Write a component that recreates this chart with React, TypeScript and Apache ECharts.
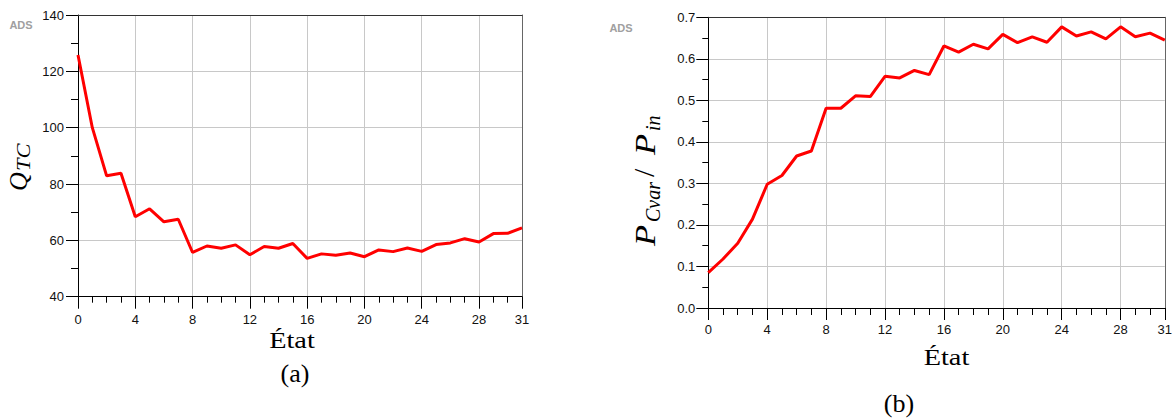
import React, { useEffect, useRef } from "react";
import * as echarts from "echarts";

const states = [0, 1, 2, 3, 4, 5, 6, 7, 8, 9, 10, 11, 12, 13, 14, 15, 16, 17, 18, 19, 20, 21, 22, 23, 24, 25, 26, 27, 28, 29, 30, 31];

const qtcValues = [125.8, 100.0, 82.9, 83.8, 68.4, 71.2, 66.6, 67.5, 55.7, 58.0, 57.2, 58.4, 54.9, 57.8, 57.2, 58.9, 53.6, 55.2, 54.7, 55.5, 54.2, 56.6, 56.0, 57.3, 56.1, 58.5, 59.1, 60.6, 59.4, 62.4, 62.5, 64.4];

const ratioValues = [0.085, 0.118, 0.156, 0.214, 0.298, 0.319, 0.366, 0.378, 0.481, 0.481, 0.511, 0.509, 0.558, 0.554, 0.572, 0.562, 0.631, 0.616, 0.635, 0.624, 0.659, 0.639, 0.653, 0.640, 0.677, 0.655, 0.665, 0.648, 0.677, 0.653, 0.662, 0.645];

const xTicks = [0, 4, 8, 12, 16, 20, 24, 28, 31];
const qtcTicks = [40, 60, 80, 100, 120, 140];
const ratioTicks = [0.0, 0.1, 0.2, 0.3, 0.4, 0.5, 0.6, 0.7];

const SANS = '"Liberation Sans", Arial, sans-serif';
const SERIF = '"Liberation Serif", "Times New Roman", serif';

function mainX(gridIndex: number, majorLen: number, minorLen: number, margin: number) {
  return {
    type: "value",
    gridIndex,
    min: xTicks[0],
    max: xTicks[xTicks.length - 1],
    interval: 4,
    axisLine: { show: true, onZero: false, lineStyle: { color: "#000", width: 1 } },
    axisTick: { show: true, inside: false, length: majorLen, lineStyle: { color: "#000", width: 1 } },
    minorTick: { show: true, splitNumber: 4, length: minorLen, lineStyle: { color: "#000", width: 1 } },
    axisLabel: { show: true, margin, color: "#111", fontSize: 13, fontFamily: SANS },
    splitLine: { show: true, lineStyle: { color: "#c8c8c8", width: 1 } },
    minorSplitLine: { show: false },
  };
}

function borderAxisX(gridIndex: number) {
  return {
    type: "value",
    gridIndex,
    position: "top",
    min: xTicks[0],
    max: xTicks[xTicks.length - 1],
    axisLine: { show: true, onZero: false, lineStyle: { color: "#333", width: 1 } },
    axisTick: { show: false },
    axisLabel: { show: false },
    splitLine: { show: false },
  };
}

function borderAxisY(gridIndex: number, min: number, max: number) {
  return {
    type: "value",
    gridIndex,
    position: "right",
    min,
    max,
    axisLine: { show: true, onZero: false, lineStyle: { color: "#666", width: 1 } },
    axisTick: { show: false },
    axisLabel: { show: false },
    splitLine: { show: false },
  };
}

function text(x: number, y: number, str: string, size: number, opts: any = {}) {
  return {
    type: "text",
    x,
    y,
    rotation: opts.rotation || 0,
    scaleX: opts.scaleX || 1,
    z: 100,
    style: {
      text: str,
      fontFamily: opts.family || SERIF,
      fontSize: size,
      fontStyle: opts.italic ? "italic" : "normal",
      fontWeight: opts.weight || "normal",
      fill: opts.color || "#000",
      align: opts.align || "center",
      verticalAlign: "middle",
    },
  };
}

export default function App() {
  const ref = useRef<HTMLDivElement>(null);

  useEffect(() => {
    if (!ref.current) return;
    const chart = echarts.init(ref.current, null, { renderer: "svg" });
    const R = Math.PI / 2;
    const option: any = {
      animation: false,
      backgroundColor: "#fff",
      grid: [
        { left: 78, top: 15, right: 653, bottom: 121.3, containLabel: false },
        { left: 708.3, top: 17.3, right: 7.7, bottom: 110, containLabel: false },
      ],
      xAxis: [
        mainX(0, 12, 6, 16),
        mainX(1, 12, 7, 15),
        borderAxisX(0),
        borderAxisX(1),
      ],
      yAxis: [
        {
          type: "value",
          gridIndex: 0,
          min: qtcTicks[0],
          max: qtcTicks[qtcTicks.length - 1],
          interval: 20,
          axisLine: { show: true, onZero: false, lineStyle: { color: "#000", width: 1 } },
          axisTick: { show: true, length: 12, lineStyle: { color: "#000" } },
          minorTick: { show: true, splitNumber: 2, length: 7, lineStyle: { color: "#000" } },
          axisLabel: { margin: 14, color: "#111", fontSize: 13, fontFamily: SANS },
          splitLine: { show: true, lineStyle: { color: "#c8c8c8", width: 1 } },
        },
        {
          type: "value",
          gridIndex: 1,
          min: ratioTicks[0],
          max: ratioTicks[ratioTicks.length - 1],
          interval: 0.1,
          axisLine: { show: true, onZero: false, lineStyle: { color: "#000", width: 1 } },
          axisTick: { show: true, length: 12, lineStyle: { color: "#000" } },
          minorTick: { show: true, splitNumber: 2, length: 6, lineStyle: { color: "#000" } },
          axisLabel: {
            margin: 13,
            color: "#111",
            fontSize: 13,
            fontFamily: SANS,
            formatter: (v: number) => v.toFixed(1),
          },
          splitLine: { show: true, lineStyle: { color: "#c8c8c8", width: 1 } },
        },
        borderAxisY(0, qtcTicks[0], qtcTicks[qtcTicks.length - 1]),
        borderAxisY(1, ratioTicks[0], ratioTicks[ratioTicks.length - 1]),
      ],
      series: [
        {
          type: "line",
          xAxisIndex: 0,
          yAxisIndex: 0,
          data: states.map((s, i) => [s, qtcValues[i]]),
          showSymbol: false,
          symbol: "none",
          lineStyle: { color: "#ff0000", width: 3 },
          z: 10,
        },
        {
          type: "line",
          xAxisIndex: 1,
          yAxisIndex: 1,
          data: states.map((s, i) => [s, ratioValues[i]]),
          showSymbol: false,
          symbol: "none",
          lineStyle: { color: "#ff0000", width: 3 },
          z: 10,
        },
      ],
      graphic: [
        text(21, 24.7, "ADS", 11, { family: SANS, weight: "bold", color: "#a0a0a0" }),
        text(621, 27.8, "ADS", 11, { family: SANS, weight: "bold", color: "#a0a0a0" }),
        // left y title Q_TC
        text(18, 191, "Q", 26, { italic: true, rotation: R, align: "left" }),
        text(24, 171, "TC", 18, { italic: true, rotation: R, align: "left", scaleX: 1.25 }),
        // right y title P_Cvar / P_in
        text(645, 246, "P", 30, { italic: true, rotation: R, align: "left", scaleX: 1.15 }),
        text(653, 222, "Cvar", 20, { italic: true, rotation: R, align: "left" }),
        text(643, 177, "/", 30, { rotation: R, align: "left" }),
        text(645, 155, "P", 30, { italic: true, rotation: R, align: "left", scaleX: 1.15 }),
        text(653, 131, "in", 20, { italic: true, rotation: R, align: "left" }),
        // x titles and captions
        text(292, 340.5, "État", 24, { scaleX: 1.18 }),
        text(295, 373, "(a)", 26),
        text(946.5, 357, "État", 24, { scaleX: 1.18 }),
        text(899, 403, "(b)", 26),
      ],
    };
    chart.setOption(option);
    return () => chart.dispose();
  }, []);

  return (
    <div
      ref={ref}
      style={{ position: "absolute", left: 0, top: 0, width: 1175, height: 418, background: "#fff" }}
    />
  );
}
